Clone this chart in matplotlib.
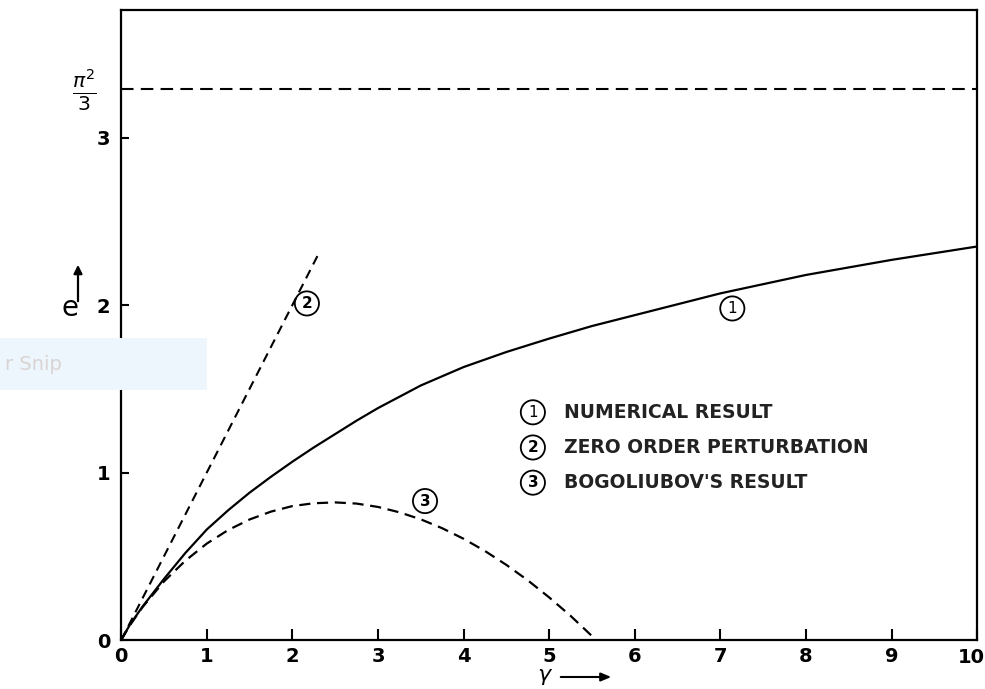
import numpy as np
import matplotlib
matplotlib.use('Agg')
import matplotlib.pyplot as plt
from matplotlib.patches import Rectangle, FancyArrowPatch

# curve 1: numerical ground state energy e(gamma)
gamma_num = [0.0, 0.1, 0.25, 0.5, 0.75, 1.0, 1.25, 1.5, 1.75, 2.0, 2.25, 2.5, 2.75, 3.0,
             3.5, 4.0, 4.5, 5.0, 5.5, 6.0, 7.0, 8.0, 9.0, 10.0]
e_num = [0.0, 0.09, 0.2, 0.365, 0.52, 0.66, 0.775, 0.88, 0.975, 1.065, 1.15, 1.23, 1.31, 1.385,
         1.52, 1.63, 1.72, 1.80, 1.875, 1.94, 2.07, 2.18, 2.27, 2.35]

# curve 2: zero order perturbation
gamma_pert = [0.0, 2.3]
e_pert = [0.0, 2.3]

# curve 3: Bogoliubov's result
gamma_bog = [0.0, 0.1, 0.25, 0.5, 0.75, 1.0, 1.25, 1.5, 1.75, 2.0, 2.25, 2.5, 2.75, 3.0,
             3.25, 3.5, 3.75, 4.0, 4.25, 4.5, 4.75, 5.0, 5.25, 5.55]
e_bog = [0.0, 0.087, 0.197, 0.35, 0.474, 0.576, 0.657, 0.72, 0.767, 0.80, 0.817, 0.822,
         0.815, 0.795, 0.763, 0.721, 0.668, 0.605, 0.532, 0.449, 0.357, 0.255, 0.145, 0.0]

e_limit = np.pi ** 2 / 3

x_ticks = list(range(11))
y_ticks = [0, 1, 2, 3]
legend_items = ['NUMERICAL RESULT', 'ZERO ORDER PERTURBATION', "BOGOLIUBOV'S RESULT"]

fig = plt.figure(figsize=(9.85, 6.89), dpi=100)
ax = fig.add_axes([0.123, 0.071, 0.869, 0.914])

ax.plot(gamma_num, e_num, color='black', lw=1.6)
ax.plot(gamma_pert, e_pert, color='black', lw=1.5, dashes=(4.5, 3))
ax.plot(gamma_bog, e_bog, color='black', lw=1.6, dashes=(5, 3))
ax.axhline(e_limit, color='black', lw=1.5, dashes=(6, 3.5))

ax.set_xlim(0, 10)
ax.set_ylim(0, 3.76)
ax.set_xticks(x_ticks)
# last x label drawn by hand so it stays inside the figure
ax.set_xticklabels([str(t) for t in x_ticks[:-1]] + [''])
ax.set_yticks(y_ticks)
for s in ax.spines.values():
    s.set_linewidth(1.6)
ax.tick_params(axis='x', direction='in', length=8, width=1.5, pad=5, labelsize=14)
ax.tick_params(axis='y', direction='in', length=6, width=1.5, pad=8, labelsize=14)
for lab in ax.get_xticklabels() + ax.get_yticklabels():
    lab.set_fontweight('bold')
ax.annotate(str(x_ticks[-1]), xy=(x_ticks[-1], 0), xytext=(-4, -5.5),
            textcoords='offset points', ha='center', va='top',
            fontsize=14, fontweight='bold', annotation_clip=False)

circ = dict(boxstyle='circle,pad=0.3', fc='none', ec='black', lw=1.3)

# curve labels
ax.text(7.14, 1.98, '1', ha='center', va='center', fontsize=11, bbox=circ)
ax.text(2.17, 2.01, '2', ha='center', va='center', fontsize=11, fontweight='bold', bbox=circ)
ax.text(3.55, 0.83, '3', ha='center', va='center', fontsize=11, fontweight='bold', bbox=circ)

# key
key_y = [1.36, 1.15, 0.94]
for i, (yy, txt) in enumerate(zip(key_y, legend_items)):
    ax.text(4.81, yy, str(i + 1), ha='center', va='center', fontsize=11,
            fontweight='bold' if i else 'normal', bbox=circ)
    ax.text(5.17, yy, txt, ha='left', va='center', fontsize=13.5, fontweight='bold',
            color='#222222')

# pi^2/3 limit label
fig.text(84 / 985, 1 - 90 / 689, r'$\frac{\pi^2}{3}$', ha='center', va='center', fontsize=21)

# axis labels with arrows
fig.text(70 / 985, 1 - 308 / 689, 'e', ha='center', va='center', fontsize=20)
fig.add_artist(FancyArrowPatch(
    (78 / 985, 1 - 304 / 689), (78 / 985, 1 - 262 / 689), transform=fig.transFigure,
    arrowstyle='-|>,head_length=5,head_width=2.5', color='black', lw=1.6))
fig.text(545 / 985, 1 - 677 / 689, r'$\gamma$', ha='center', va='center', fontsize=16)
fig.add_artist(FancyArrowPatch(
    (558 / 985, 1 - 677 / 689), (614 / 985, 1 - 677 / 689), transform=fig.transFigure,
    arrowstyle='-|>,head_length=6,head_width=2.5', color='black', lw=1.5))

# snipping tool overlay
fig.add_artist(Rectangle((0, 1 - 390 / 689), 207 / 985, 52 / 689, transform=fig.transFigure,
                         fc='#eef6fd', ec='none', zorder=5))
fig.text(5 / 985, 1 - 364 / 689, 'r Snip', ha='left', va='center', fontsize=14,
         color='#d9d3d3', zorder=6)

fig.savefig('out.png', dpi=100)
